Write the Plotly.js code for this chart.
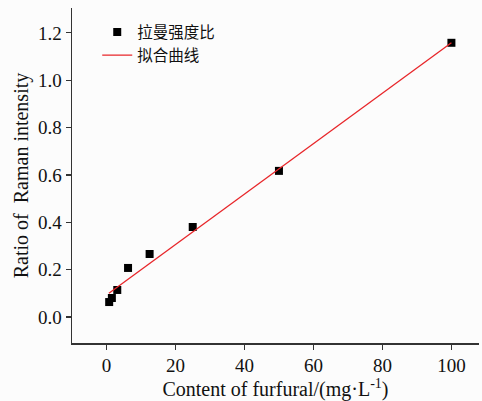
<!DOCTYPE html>
<html>
<head>
<meta charset="utf-8">
<script src="https://cdn.plot.ly/plotly-3.0.1.min.js"></script>
<style>html,body{margin:0;padding:0;background:#fcfcfc;}</style>
</head>
<body>
<div id="chart" style="width:482px;height:401px;"></div>
<script>
const concentration = [0.78, 1.56, 3.125, 6.25, 12.5, 25, 50, 100];
const ramanRatio = [0.063, 0.080, 0.114, 0.207, 0.266, 0.380, 0.617, 1.158];
const fitX = [0.7, 100];
const fitY = [0.100, 1.158];
const xTicks = [0, 20, 40, 60, 80, 100];
const yTicks = [0, 0.2, 0.4, 0.6, 0.8, 1.0, 1.2];
const yTickText = ['0.0', '0.2', '0.4', '0.6', '0.8', '1.0', '1.2'];

const serif = 'Liberation Serif';
const data = [
  {x: concentration, y: ramanRatio, type: 'scatter', mode: 'markers', name: '拉曼强度比',
   marker: {symbol: 'square', size: 8, color: '#000000'}},
  {x: fitX, y: fitY, type: 'scatter', mode: 'lines', name: '拟合曲线',
   line: {color: '#e8262a', width: 1.3}}
];
const layout = {
  width: 482, height: 401,
  margin: {l: 72, r: 3, t: 8, b: 58},
  font: {family: serif, size: 19, color: '#111'},
  paper_bgcolor: '#fcfcfc', plot_bgcolor: '#fcfcfc',
  showlegend: true,
  legend: {x: 0.062, y: 0.978, xanchor: 'left', yanchor: 'top', bgcolor: 'rgba(0,0,0,0)',
    font: {family: 'Noto Sans CJK SC', size: 15.5, color: '#111'}, tracegroupgap: 0, itemwidth: 30},
  xaxis: {
    range: [-10, 108], tickmode: 'array', tickvals: xTicks, ticktext: xTicks.map(String),
    showgrid: false, zeroline: false, showline: true, linecolor: '#333', linewidth: 1.5,
    ticks: 'outside', ticklen: 5, tickwidth: 1.2, tickcolor: '#333',
    tickfont: {family: serif, size: 19, color: '#111'},
    title: {text: 'Content of furfural/(mg·L<sup>-1</sup>)', font: {family: serif, size: 20, color: '#111'}, standoff: 2}
  },
  yaxis: {
    range: [-0.11, 1.305], tickmode: 'array', tickvals: yTicks, ticktext: yTickText,
    showgrid: false, zeroline: false, showline: true, linecolor: '#333', linewidth: 1.5,
    ticks: 'outside', ticklen: 5, tickwidth: 1.2, tickcolor: '#333',
    tickfont: {family: serif, size: 19, color: '#111'},
    title: {text: 'Ratio of  Raman intensity', font: {family: serif, size: 20, color: '#111'}, standoff: 4}
  }
};
Plotly.newPlot('chart', data, layout, {displayModeBar: false, staticPlot: true});
</script>
</body>
</html>
